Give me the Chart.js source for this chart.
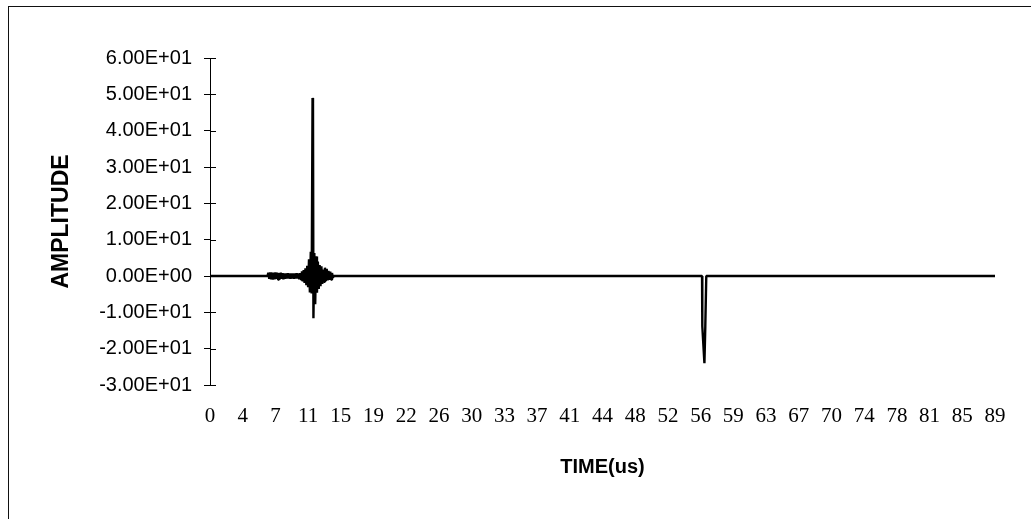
<!DOCTYPE html>
<html lang="en">
<head>
  <meta charset="UTF-8">
  <title>Amplitude vs time</title>
  <style>
    *{
      margin: 0;
      padding: 0;
    }
    body{
      background: white;
      width: 1031px;
      height: 519px;
      overflow: hidden;
      position: relative;
    }
    .frame{
      position: absolute;
      left: 8px;
      top: 6px;
      width: 1040px;
      height: 530px;
      border-top: 1px solid #111;
      border-left: 1px solid #111;
    }
    .chartBox{
      position: absolute;
      left: 0;
      top: 0;
      width: 1031px;
      height: 519px;
    }
  </style>
</head>
<body>
  <div class="frame"></div>
  <div class="chartBox">
    <canvas id="myChart"></canvas>
  </div>
  <script src="https://cdn.jsdelivr.net/npm/chart.js"></script>
  <script>
    // time in microseconds
    const timeUs = [
      0, 6.5,
      6.6, 6.7, 6.8, 6.9, 7.0, 7.1, 7.2, 7.3, 7.4, 7.5,
      7.6, 7.7, 7.8, 7.9, 8.0, 8.1, 8.2, 8.3, 8.4, 8.5,
      8.6, 8.7, 8.8, 8.9, 9.0, 9.1, 9.2, 9.3, 9.4, 9.5,
      9.6, 9.7, 9.8, 9.9, 10.0, 10.1, 10.2, 10.3, 10.4, 10.5,
      10.6, 10.7, 10.8, 10.9, 11.0, 11.1, 11.2, 11.3, 11.4, 11.5,
      11.6, 11.65, 11.7, 11.8, 11.9, 12.0, 12.1, 12.2, 12.3, 12.4, 12.5,
      12.6, 12.7, 12.8, 12.9, 13.0, 13.1, 13.2, 13.3, 13.4, 13.5,
      13.6, 13.7, 13.8, 13.9, 14.0,
      55.66, 55.69, 55.93, 56.03, 56.14,
      88.8
    ];
    const amplitude = [
      0, 0,
      0.9, -0.8, 1.0, -0.9, 0.9, -1.0, 0.9, -0.9, 1.0, -0.8,
      0.9, -1.0, 0.8, -0.9, 0.9, -0.8, 0.8, -0.9, 0.7, -0.8,
      0.7, -0.7, 0.8, -0.7, 0.7, -0.8, 0.7, -0.7, 0.7, -0.8,
      0.7, -0.7, 0.8, -0.7, 0.7, -0.9, 0.8, -1.0, 1.3, -1.5,
      1.6, -1.9, 2.1, -2.5, 2.8, -3.1, 4.6, -4.5, 6.7, -4.8,
      49.0, 47.5, -11.6, 6.3, -7.8, 5.4, -4.6, 4.0, -3.6, 3.0, -2.8,
      2.7, -2.2, 1.8, -1.6, 2.3, -1.4, 2.0, -1.2, 1.4, -1.1,
      1.2, -1.0, 0.8, -0.5, 0,
      0, -13.8, -24.0, -13.8, 0,
      0
    ];

    // category labels under the axis (every 3.7 us)
    const xTicks = [0, 3.7, 7.4, 11.1, 14.8, 18.5, 22.2, 25.9, 29.6, 33.3, 37, 40.7, 44.4,
                    48.1, 51.8, 55.5, 59.2, 62.9, 66.6, 70.3, 74, 77.7, 81.4, 85.1, 88.8];
    const xTickLabels = ['0', '4', '7', '11', '15', '19', '22', '26', '30', '33', '37', '41', '44',
                         '48', '52', '56', '59', '63', '67', '70', '74', '78', '81', '85', '89'];
    const yTicks = [60, 50, 40, 30, 20, 10, 0, -10, -20, -30];

    function sci(v){
      // Excel style 6.00E+01
      if (v === 0) return '0.00E+00';
      const parts = v.toExponential(2).split('e');
      let exp = parseInt(parts[1], 10);
      const sign = exp < 0 ? '-' : '+';
      exp = Math.abs(exp);
      return parts[0] + 'E' + sign + (exp < 10 ? '0' + exp : exp);
    }

    const points = timeUs.map((t, i) => ({x: t, y: amplitude[i]}));

    // ticks on the y axis cross the line, draw the inner half
    const crossTicks = {
      id: 'crossTicks',
      afterDatasetsDraw(chart){
        const y = chart.scales.y;
        const ctx = chart.ctx;
        ctx.save();
        ctx.strokeStyle = '#000';
        ctx.lineWidth = 1;
        y.ticks.forEach(t => {
          const py = Math.round(y.getPixelForValue(t.value)) + 0.5;
          ctx.beginPath();
          ctx.moveTo(y.right, py);
          ctx.lineTo(y.right + 6, py);
          ctx.stroke();
        });
        ctx.restore();
      }
    };

    const data = {
      datasets: [{
        label: 'amplitude',
        data: points,
        borderColor: '#000',
        borderWidth: 2.4,
        borderJoinStyle: 'bevel',
        pointRadius: 0,
        tension: 0,
        fill: false
      }]
    };

    const config = {
      type: 'line',
      data,
      options: {
        responsive: true,
        maintainAspectRatio: false,
        animation: false,
        layout: {
          padding: {left: 0, right: 36, top: 58, bottom: 0}
        },
        plugins: {
          legend: {display: false},
          tooltip: {enabled: false}
        },
        scales: {
          x: {
            type: 'linear',
            min: 0,
            max: 88.8,
            afterBuildTicks(scale){
              scale.ticks = xTicks.map(v => ({value: v}));
            },
            afterFit(scale){
              scale.height = 134;
            },
            grid: {display: false, drawTicks: false},
            border: {display: false},
            ticks: {
              autoSkip: false,
              maxRotation: 0,
              padding: 19,
              color: '#000',
              font: {family: "'Liberation Serif', 'Times New Roman', serif", size: 21},
              callback: (v, i) => xTickLabels[i]
            },
            title: {
              display: true,
              text: 'TIME(us)',
              color: '#000',
              font: {family: "'Liberation Sans', Arial, sans-serif", size: 20, weight: 'bold'},
              padding: {top: 0, bottom: 40}
            }
          },
          y: {
            min: -30,
            max: 60,
            afterBuildTicks(scale){
              scale.ticks = yTicks.map(v => ({value: v}));
            },
            afterFit(scale){
              scale.width = 210;
            },
            grid: {
              drawOnChartArea: false,
              drawTicks: true,
              tickLength: 6,
              color: '#000',
              lineWidth: 1
            },
            border: {display: true, color: '#000', width: 1},
            ticks: {
              padding: 12,
              color: '#000',
              font: {family: "'Liberation Sans', Arial, sans-serif", size: 20},
              callback: v => sci(v)
            },
            title: {
              display: true,
              text: 'AMPLITUDE',
              color: '#000',
              font: {family: "'Liberation Sans', Arial, sans-serif", size: 23, weight: 'bold'},
              padding: {top: 48, bottom: 0}
            }
          }
        }
      },
      plugins: [crossTicks]
    };

    const myChart = new Chart(document.getElementById('myChart'), config);
  </script>
</body>
</html>
